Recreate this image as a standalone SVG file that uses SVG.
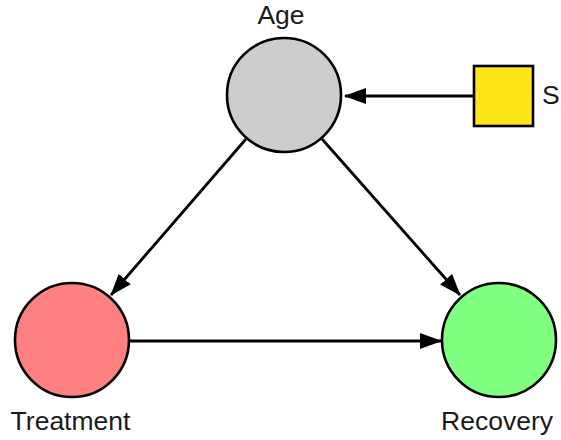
<svg xmlns="http://www.w3.org/2000/svg" width="561" height="440" viewBox="0 0 561 440">
  <style>
    .node { stroke: #000; stroke-width: 2.6; }
    .label { font-family: "Liberation Sans", Arial, Helvetica, sans-serif; font-size: 26.5px; fill: #1a1a1a; }
    .edge { stroke: #000; stroke-width: 2.8; fill: none; marker-end: url(#arrow); }
  </style>
  <defs>
    <marker id="arrow" markerUnits="userSpaceOnUse" markerWidth="22" markerHeight="16" viewBox="0 0 22 16" refX="21" refY="8" orient="auto">
      <path d="M0,0 L22,8 L0,16 Z" fill="#000"/>
    </marker>
  </defs>
  <rect width="561" height="440" fill="#fff"/>

  <g id="connectors">
    <line class="edge" x1="474" y1="96" x2="345" y2="96"/>
    <line class="edge" x1="246" y1="139" x2="111" y2="295"/>
    <line class="edge" x1="322" y1="139" x2="460" y2="295"/>
    <line class="edge" x1="130" y1="341" x2="441" y2="341"/>
  </g>

  <g id="age">
    <circle class="node" cx="284" cy="95" r="57" fill="#cccccc"/>
    <text class="label" x="281" y="24" text-anchor="middle">Age</text>
  </g>

  <g id="s">
    <rect class="node" x="474" y="66" width="59" height="60" fill="#ffe619"/>
    <text class="label" x="542" y="104">S</text>
  </g>

  <g id="treatment">
    <circle class="node" cx="72" cy="340" r="57" fill="#ff8080"/>
    <text class="label" x="70.5" y="430" text-anchor="middle">Treatment</text>
  </g>

  <g id="recovery">
    <circle class="node" cx="499" cy="340" r="57" fill="#80ff80"/>
    <text class="label" x="497" y="430" text-anchor="middle">Recovery</text>
  </g>
</svg>
